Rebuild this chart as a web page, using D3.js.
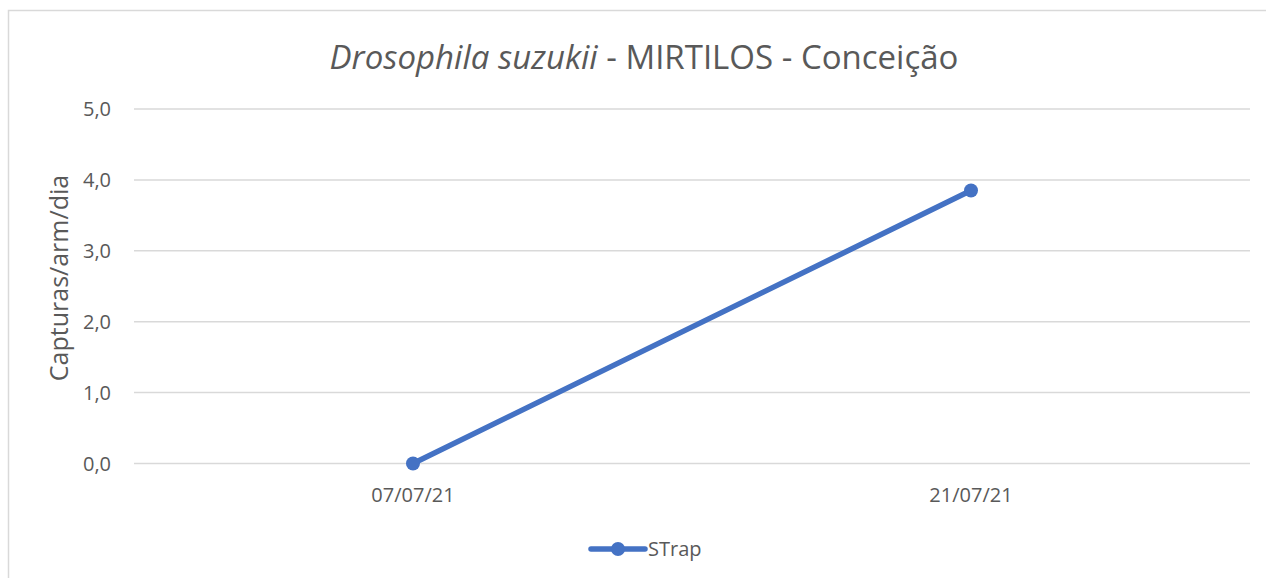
<!DOCTYPE html>
<html>
<head>
<meta charset="utf-8">
<script src="https://cdn.jsdelivr.net/npm/d3@7"></script>
<style>
  body { margin: 0; background: #fff; }
  text { font-family: "Open Sans", "Noto Sans", sans-serif; fill: #595959; }
</style>
</head>
<body>
<div id="chart"></div>
<script>
// data
var dates = ['07/07/21', '21/07/21'];
var strap = [0.0, 3.85];
var yTicks = [0, 1, 2, 3, 4, 5];
var seriesName = 'STrap';

var width = 1266,
    height = 578;

var svg = d3.select('#chart').append('svg')
    .attr('width', width)
    .attr('height', height);

// chart frame (runs past the right and bottom edges)
svg.append('rect')
    .attr('x', 8.5).attr('y', 10.5)
    .attr('width', 1300).attr('height', 700)
    .attr('fill', '#fff')
    .style('stroke', '#d9d9d9')
    .style('stroke-width', '1.5px');

var pLeft = 134, pRight = 1250, pTop = 109, pBottom = 463.5;

var x = d3.scaleBand()
    .domain(dates)
    .range([pLeft, pRight]);

var y = d3.scaleLinear()
    .domain([0, 5])
    .range([pBottom, pTop]);

// gridlines
svg.selectAll('.grid')
    .data(yTicks)
    .enter().append('line')
    .attr('class', 'grid')
    .attr('x1', pLeft).attr('x2', pRight)
    .attr('y1', function(d) { return y(d); })
    .attr('y2', function(d) { return y(d); })
    .style('stroke', '#d9d9d9')
    .style('stroke-width', '1.5px');

// y tick labels
svg.selectAll('.ylab')
    .data(yTicks)
    .enter().append('text')
    .attr('class', 'ylab')
    .attr('x', 111)
    .attr('y', function(d) { return y(d); })
    .attr('dy', '0.35em')
    .attr('text-anchor', 'end')
    .style('font-size', '20px')
    .text(function(d) { return d.toFixed(1).replace('.', ','); });

// x tick labels
svg.selectAll('.xlab')
    .data(dates)
    .enter().append('text')
    .attr('class', 'xlab')
    .attr('x', function(d) { return x(d) + x.bandwidth() / 2; })
    .attr('y', 502)
    .attr('text-anchor', 'middle')
    .style('font-size', '20px')
    .text(function(d) { return d; });

// title
var title = svg.append('text')
    .attr('x', 644)
    .attr('y', 69)
    .attr('text-anchor', 'middle')
    .style('font-size', '33px');
title.append('tspan').style('font-style', 'italic').text('Drosophila suzukii');
title.append('tspan').text(' - MIRTILOS - Conceição');

// y axis title
svg.append('text')
    .attr('transform', 'translate(68,278) rotate(-90)')
    .attr('text-anchor', 'middle')
    .style('font-size', '25px')
    .text('Capturas/arm/dia');

// series
var pts = dates.map(function(d, i) { return [d, strap[i]]; });

var line = d3.line()
    .x(function(d) { return x(d[0]) + x.bandwidth() / 2; })
    .y(function(d) { return y(d[1]); });

svg.append('path')
    .datum(pts)
    .attr('d', line)
    .style('fill', 'none')
    .style('stroke', '#4472c4')
    .style('stroke-width', '5.5px')
    .style('stroke-linecap', 'round');

svg.selectAll('.dot')
    .data(pts)
    .enter().append('circle')
    .attr('class', 'dot')
    .attr('cx', function(d) { return x(d[0]) + x.bandwidth() / 2; })
    .attr('cy', function(d) { return y(d[1]); })
    .attr('r', 7)
    .attr('fill', '#4472c4');

// legend
var lg = svg.append('g').attr('transform', 'translate(0,549)');
lg.append('line')
    .attr('x1', 591).attr('x2', 645)
    .style('stroke', '#4472c4')
    .style('stroke-width', '5.5px')
    .style('stroke-linecap', 'round');
lg.append('circle')
    .attr('cx', 618).attr('r', 7)
    .attr('fill', '#4472c4');
lg.append('text')
    .attr('x', 648)
    .attr('dy', '0.35em')
    .style('font-size', '20px')
    .text(seriesName);
</script>
</body>
</html>
